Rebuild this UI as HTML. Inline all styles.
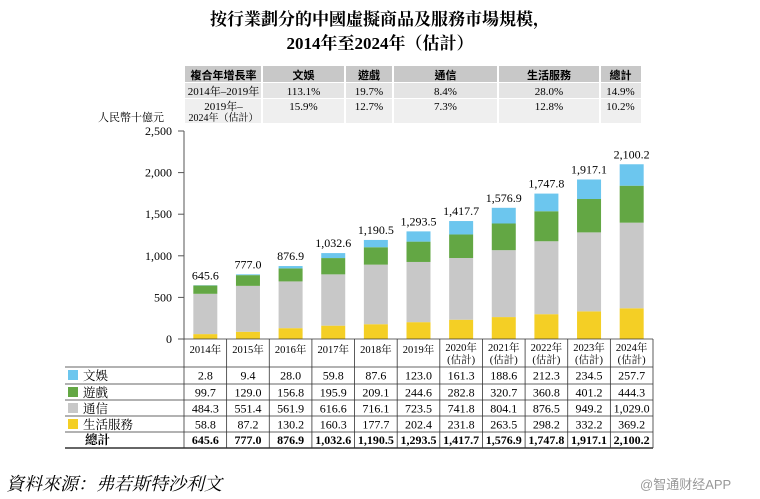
<!DOCTYPE html>
<html><head><meta charset="utf-8"><style>
body{margin:0;background:#fff;font-family:"Liberation Serif","Noto Serif CJK SC","Noto Sans CJK TC",serif;}
#wrap{position:relative;width:760px;height:499px;overflow:hidden;}
.t{position:absolute;white-space:nowrap;}
</style></head><body>
<div id="wrap">
<div class="t" style="left:0;width:760px;top:8px;text-align:center;font-size:17px;font-weight:bold;line-height:24px;">按行業劃分的中國虛擬商品及服務市場規模，<br>2014年至2024年（估計）</div>
<svg id="svg" width="760" height="499" style="position:absolute;left:0;top:0"></svg>
<div class="t" style="left:6px;top:470px;font-size:18px;font-style:italic;">資料來源：弗若斯特沙利文</div>
<div class="t" style="left:640px;top:474px;font-size:13px;color:#999;font-family:'Liberation Sans','Noto Sans CJK SC',sans-serif;">@智通财经APP</div>
</div>
<script>
const years=["2014年","2015年","2016年","2017年","2018年","2019年","2020年","2021年","2022年","2023年","2024年"];
const est=[false,false,false,false,false,false,true,true,true,true,true];
const ent=[2.8,9.4,28.0,59.8,87.6,123.0,161.3,188.6,212.3,234.5,257.7];
const game=[99.7,129.0,156.8,195.9,209.1,244.6,282.8,320.7,360.8,401.2,444.3];
const comm=[484.3,551.4,561.9,616.6,716.1,723.5,741.8,804.1,876.5,949.2,1029.0];
const life=[58.8,87.2,130.2,160.3,177.7,202.4,231.8,263.5,298.2,332.2,369.2];
const totals=[645.6,777.0,876.9,1032.6,1190.5,1293.5,1417.7,1576.9,1747.8,1917.1,2100.2];
const yTicks=[0,500,1000,1500,2000,2500];
const cagrHead=["複合年增長率","文娛","遊戲","通信","生活服務","總計"];
const cagr1=["2014年–2019年","113.1%","19.7%","8.4%","28.0%","14.9%"];
const cagr2=["2019年–|2024年（估計）","15.9%","12.7%","7.3%","12.8%","10.2%"];

const svg=document.getElementById('svg');const NS="http://www.w3.org/2000/svg";
function el(tag,attrs,parent){const e=document.createElementNS(NS,tag);for(const k in attrs)e.setAttribute(k,attrs[k]);(parent||svg).appendChild(e);return e;}
function txt(x,y,s,opts){const e=el('text',Object.assign({x:x,y:y,'font-size':12,'text-anchor':'middle','font-family':'"Liberation Serif","Noto Serif CJK SC",serif'},opts||{}));e.textContent=s;return e;}
const x0=184,x1=653,y0=339,yTop=131,ymax=2500;
const colW=(x1-x0)/years.length;
const Y=v=>y0-(v/ymax)*(y0-yTop);
const Xc=i=>x0+colW*(i+0.5);
const cols={ent:"#6cc6ee",game:"#63a744",comm:"#c8c8c8",life:"#f4cf25"};

const cx=[185,262,345,393,498,600,641];
let g=el('g',{});
el('rect',{x:185,y:66,width:456,height:16,fill:'#c8c8c8'},g);
el('rect',{x:185,y:83,width:456,height:15,fill:'#e4e4e4'},g);
el('rect',{x:185,y:99,width:456,height:24,fill:'#efefef'},g);
for(let i=1;i<6;i++)el('line',{x1:cx[i],y1:66,x2:cx[i],y2:123,stroke:'#fff','stroke-width':2},g);
for(let i=0;i<6;i++){const m=(cx[i]+cx[i+1])/2;
 txt(m,79,cagrHead[i],{'font-size':11,'font-weight':'bold','font-family':'"Liberation Sans","Noto Sans CJK TC",sans-serif'});
 txt(m,95,cagr1[i],{'font-size':11});
 const p=cagr2[i].split('|');txt(m,110,p[0],{'font-size':11});if(p[1])txt(m,121,p[1],{'font-size':10});}

txt(98,121,"人民幣十億元",{'text-anchor':'start','font-size':11});
el('line',{x1:x0,y1:yTop,x2:x0,y2:y0,stroke:'#555'});
yTicks.forEach(v=>{el('line',{x1:x0-6,y1:Y(v),x2:x0,y2:Y(v),stroke:'#555'});
 const t=txt(x0-12,Y(v)+4,v.toLocaleString('en-US'),{'text-anchor':'end'});});

const bw=24;
years.forEach((yr,i)=>{let base=0;const c=Xc(i);
 [[life,'life'],[comm,'comm'],[game,'game'],[ent,'ent']].forEach(([arr,k])=>{
  const r=el('rect',{x:c-bw/2,y:Y(base+arr[i]),width:bw,height:Y(base)-Y(base+arr[i]),fill:cols[k]});
  
  
  base+=arr[i];});
 const t=txt(c,Y(totals[i])-6,totals[i].toLocaleString('en-US',{minimumFractionDigits:1}));
 
});

const tx0=65,rowsY=[339,367,384,400,416,432,448];
const lines=el('g',{stroke:'#333','stroke-width':0.8});
el('line',{x1:x0,y1:339,x2:x1,y2:339},lines);
el('line',{x1:tx0,y1:367,x2:x1,y2:367},lines);
for(let r=2;r<6;r++)el('line',{x1:tx0,y1:rowsY[r],x2:x1,y2:rowsY[r]},lines);
el('line',{x1:tx0,y1:448,x2:x1,y2:448,'stroke-width':1.5},lines);
for(let i=0;i<=years.length;i++)el('line',{x1:x0+colW*i,y1:339,x2:x0+colW*i,y2:448},lines);
years.forEach((yr,i)=>{const c=Xc(i);
 if(est[i]){txt(c,351,yr,{'font-size':10.5});txt(c,363,"(估計)",{'font-size':10.5});}
 else txt(c,353,yr,{'font-size':10.5});});
const rowsDef=[["文娛",ent,cols.ent],["遊戲",game,cols.game],["通信",comm,cols.comm],["生活服務",life,cols.life]];
rowsDef.forEach((rd,r)=>{const yy=rowsY[r+1];
 const sw=el('rect',{x:68,y:yy+3,width:10,height:10,fill:rd[2]});
 txt(83,yy+13,rd[0],{'text-anchor':'start','font-size':12.5});
 rd[1].forEach((v,i)=>txt(Xc(i),yy+12.5,v.toLocaleString('en-US',{minimumFractionDigits:1}),{'font-size':12}));});
txt(85,444,"總計",{'text-anchor':'start','font-size':12.5,'font-weight':'bold'});
totals.forEach((v,i)=>txt(Xc(i),444,v.toLocaleString('en-US',{minimumFractionDigits:1}),{'font-size':12,'font-weight':'bold'}));
</script>
</body></html>
